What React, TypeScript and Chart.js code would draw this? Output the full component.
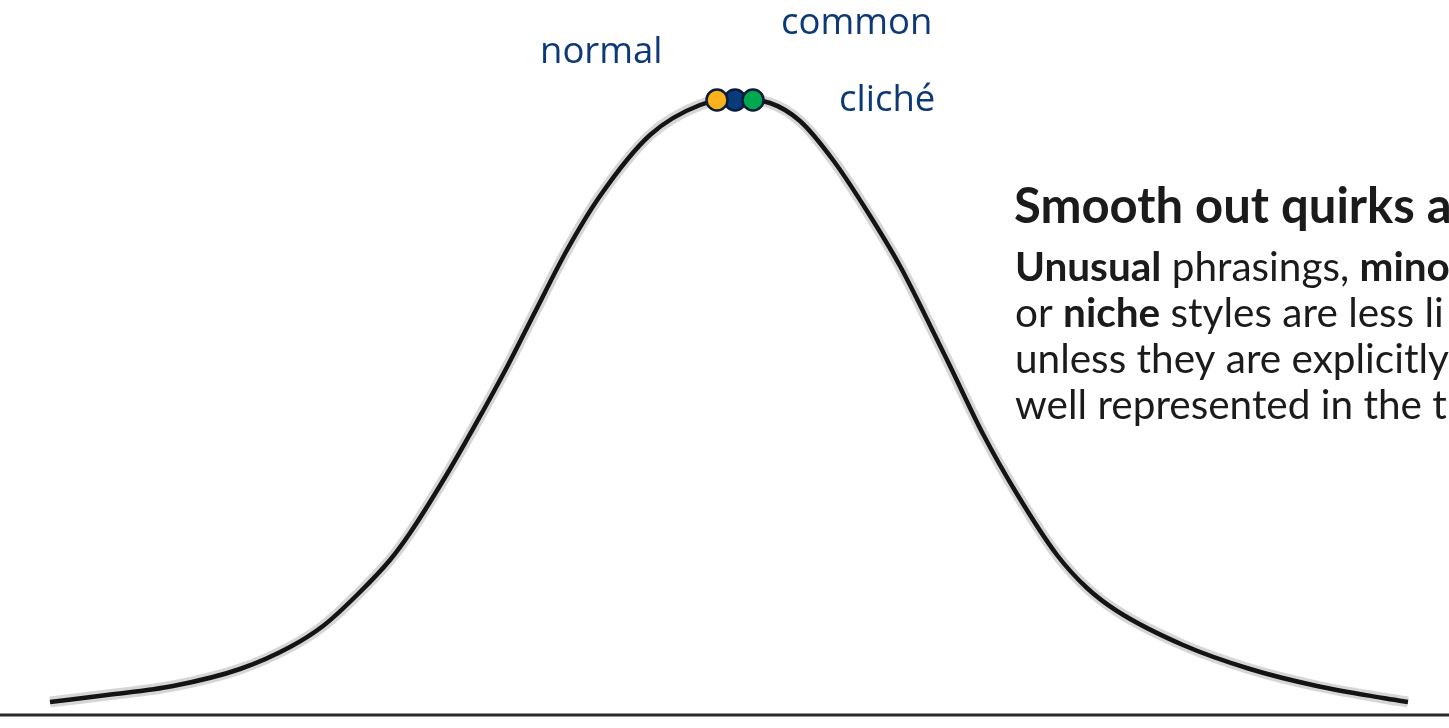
import React, { useEffect, useRef } from "react";
import { Chart, registerables } from "chart.js";

Chart.register(...registerables);

// Bell curve (x position, height above the baseline)
const curveX = [50, 107, 173, 240, 290, 323, 357, 390, 410, 450, 483, 507, 535, 567, 600, 650, 700, 735, 770, 800, 833, 867, 900, 923, 950, 983, 1017, 1057, 1087, 1117, 1183, 1250, 1317, 1383, 1408];
const curveY = [13, 20, 29, 46, 68, 89, 120, 155, 182, 246, 304, 348, 403, 465, 519, 580, 610, 616, 612, 594, 555, 504, 449, 404, 349, 281, 221, 160, 127, 104, 70, 46, 29, 17, 13];

// Baseline (x axis of the sketch)
const baselineX = [0, 1449];
const baselineY = [0, 0];

// Three markers at the peak: drawn in this order (blue behind, then orange, then green)
const dotNames = ["common", "normal", "cliché"];
const dotX = [735, 717, 753];
const dotY = [615, 615, 615];
const dotColors = ["#073b7c", "#fbb11c", "#00a94f"];

// Marker labels
const labelTexts = ["normal", "common", "cliché"];

// Side text
const headingText = "Smooth out quirks a";
const bodyLines: [string, boolean][][] = [
  [["Unusual", true], [" phrasings, ", false], ["mino", true]],
  [["or ", false], ["niche", true], [" styles are less li", false]],
  [["unless they are explicitly", false]],
  [["well represented in the t", false]],
];

const W = 1449;
const H = 728;

const labelLayout = [
  { x: 540, y: 63 },
  { x: 781, y: 34 },
  { x: 839, y: 111 },
];

const textPlugin = {
  id: "sketchText",
  afterDatasetsDraw(chart: any) {
    const ctx = chart.ctx as CanvasRenderingContext2D;
    ctx.save();
    ctx.textBaseline = "alphabetic";
    ctx.textAlign = "left";
    ctx.fillStyle = "#0d3a76";
    ctx.font = '400 36.5px "Open Sans"';
    labelTexts.forEach((t, i) => {
      ctx.fillText(t, labelLayout[i].x, labelLayout[i].y);
    });

    ctx.fillStyle = "#1b1b1b";
    ctx.font = "700 49px Lato";
    ctx.fillText(headingText, 1014, 223);

    const lineBaselines = [281, 327, 373, 419];
    bodyLines.forEach((runs, li) => {
      let x = 1015;
      runs.forEach(([txt, bold]) => {
        ctx.font = (bold ? "700" : "400") + " 40.5px Lato";
        ctx.fillText(txt, x, lineBaselines[li]);
        x += ctx.measureText(txt).width;
      });
    });
    ctx.restore();
  },
};

export default function App() {
  const ref = useRef<HTMLCanvasElement | null>(null);

  useEffect(() => {
    if (!ref.current) return;
    const curve = curveX.map((x, i) => ({ x, y: curveY[i] }));
    const base = baselineX.map((x, i) => ({ x, y: baselineY[i] }));
    const dots = dotX.map((x, i) => ({ x, y: dotY[i], name: dotNames[i] }));

    const chart = new Chart(ref.current, {
      type: "line",
      data: {
        datasets: [
          {
            type: "scatter",
            label: "markers",
            data: dots,
            showLine: false,
            pointRadius: 10.5,
            pointBorderWidth: 2.5,
            pointBorderColor: "#0b1b3a",
            pointBackgroundColor: dotColors,
            order: 0,
          } as any,
          {
            label: "curve",
            data: curve,
            borderColor: "#141414",
            borderWidth: 4.5,
            pointRadius: 0,
            cubicInterpolationMode: "monotone",
            fill: false,
            order: 1,
          },
          {
            label: "curve halo",
            data: curve,
            borderColor: "rgba(0,0,0,0.16)",
            borderWidth: 11,
            pointRadius: 0,
            cubicInterpolationMode: "monotone",
            fill: false,
            order: 2,
          },
          {
            label: "baseline",
            data: base,
            borderColor: "#2a2a2a",
            borderWidth: 3,
            pointRadius: 0,
            fill: false,
            order: 3,
          },
        ],
      },
      options: {
        animation: false,
        responsive: true,
        maintainAspectRatio: false,
        devicePixelRatio: 1,
        layout: { padding: 0, autoPadding: false },
        plugins: {
          legend: { display: false },
          tooltip: { enabled: false },
        },
        scales: {
          x: { type: "linear", min: 0, max: W, display: false },
          y: { type: "linear", min: -13, max: 715, display: false },
        },
      },
      plugins: [textPlugin],
    });

    let alive = true;
    Promise.all([
      document.fonts.load('400 36px "Open Sans"'),
      document.fonts.load("700 49px Lato"),
      document.fonts.load("400 40px Lato"),
    ])
      .catch(() => undefined)
      .then(() => {
        if (alive) chart.update();
      });

    return () => {
      alive = false;
      chart.destroy();
    };
  }, []);

  return (
    <div
      style={{
        position: "fixed",
        left: 0,
        top: 0,
        width: W,
        height: H,
        overflow: "hidden",
        background: "#ffffff",
      }}
    >
      <canvas ref={ref} />
    </div>
  );
}
